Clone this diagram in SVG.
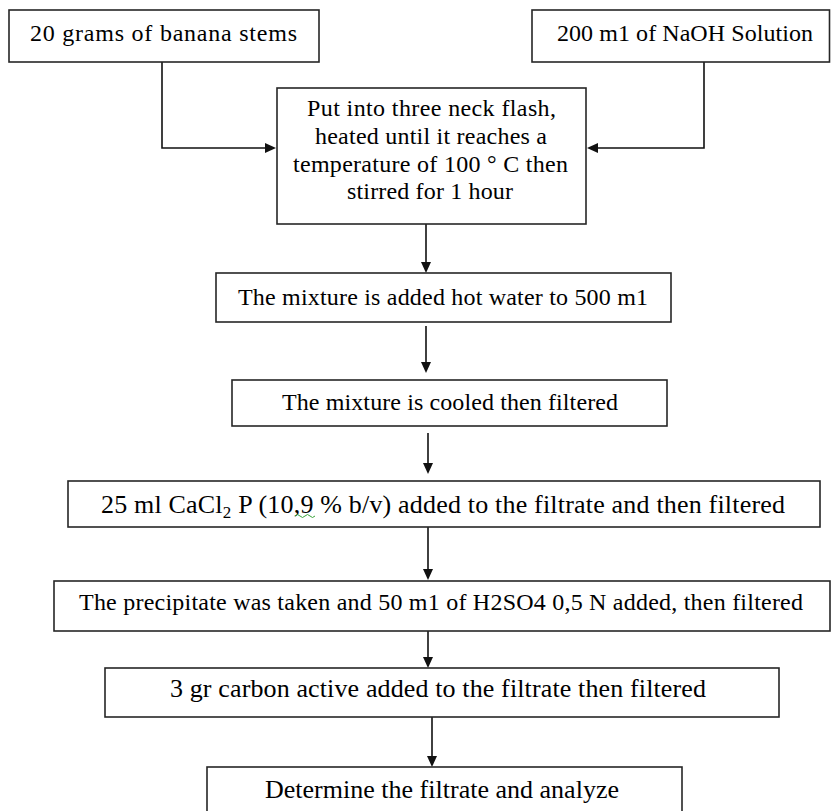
<svg xmlns="http://www.w3.org/2000/svg" width="831" height="811" viewBox="0 0 831 811">
<style>
  .box { fill: #ffffff; stroke: #262626; stroke-width: 1.6; }
  .t { font-family: "Liberation Serif", "Times New Roman", serif; font-size: 24px; fill: #000; }
  .tl { font-family: "Liberation Serif", "Times New Roman", serif; font-size: 26px; fill: #000; }
  .conn { fill: none; stroke: #111; stroke-width: 1.6; }
</style>
<defs>
  <marker id="arrow" markerUnits="userSpaceOnUse" markerWidth="12" markerHeight="11" refX="3" refY="5" orient="auto">
    <path d="M0,0 L11,5 L0,10 z" fill="#111"/>
  </marker>
</defs>
<rect width="831" height="811" fill="#ffffff"/>

<g id="connectors">
  <path class="conn" d="M162,62 V148 H268" marker-end="url(#arrow)"/>
  <path class="conn" d="M704,62 V148 H595" marker-end="url(#arrow)"/>
  <path class="conn" d="M426,224 V265" marker-end="url(#arrow)"/>
  <path class="conn" d="M426,326 V365" marker-end="url(#arrow)"/>
  <path class="conn" d="M428,433 V466" marker-end="url(#arrow)"/>
  <path class="conn" d="M428,527 V572" marker-end="url(#arrow)"/>
  <path class="conn" d="M428,631 V660" marker-end="url(#arrow)"/>
  <path class="conn" d="M432,717 V759" marker-end="url(#arrow)"/>
</g>

<g id="node-banana">
  <rect class="box" x="9" y="10" width="310" height="52"/>
  <text class="t" x="30" y="41" textLength="267" lengthAdjust="spacing">20 grams of banana stems</text>
</g>

<g id="node-naoh">
  <rect class="box" x="532" y="10" width="297.5" height="52"/>
  <text class="t" x="557" y="41" textLength="256" lengthAdjust="spacing">200 m1 of NaOH Solution</text>
</g>

<g id="node-flask">
  <rect class="box" x="277" y="88" width="309" height="136"/>
  <text class="t" x="307" y="116" textLength="249" lengthAdjust="spacing">Put into three neck flash,</text>
  <text class="t" x="315" y="143.5" textLength="232" lengthAdjust="spacing">heated until it reaches a</text>
  <text class="t" x="293" y="171.5" textLength="275" lengthAdjust="spacing">temperature of 100 ° C then</text>
  <text class="t" x="347" y="199" textLength="166" lengthAdjust="spacing">stirred for 1 hour</text>
</g>

<g id="node-hotwater">
  <rect class="box" x="216" y="273" width="455" height="49"/>
  <text class="t" x="238" y="305" textLength="410" lengthAdjust="spacing">The mixture is added hot water to 500 m1</text>
</g>

<g id="node-cooled">
  <rect class="box" x="232" y="380" width="435" height="46"/>
  <text class="t" x="282" y="410" textLength="336" lengthAdjust="spacing">The mixture is cooled then filtered</text>
</g>

<g id="node-cacl2">
  <rect class="box" x="68" y="481" width="752" height="46"/>
  <text class="tl" x="101" y="513" textLength="684" lengthAdjust="spacing">25 ml CaCl<tspan font-size="17" dy="5">2</tspan><tspan dy="-5"> P (10,9 % b/v) added to the filtrate and then filtered</tspan></text>
  <path d="M295,516 q2.5,-3 5,0 t5,0 t5,0 t5,0" fill="none" stroke="#3aa33a" stroke-width="1"/>
</g>

<g id="node-precipitate">
  <rect class="box" x="54" y="581" width="776" height="50"/>
  <text class="t" x="79" y="610" textLength="724" lengthAdjust="spacing">The precipitate was taken and 50 m1 of H2SO4 0,5 N added, then filtered</text>
</g>

<g id="node-carbon">
  <rect class="box" x="105" y="668" width="674" height="49"/>
  <text class="tl" x="170" y="697" textLength="536" lengthAdjust="spacing">3 gr carbon active added to the filtrate then filtered</text>
</g>

<g id="node-determine">
  <rect class="box" x="207" y="767" width="475" height="52"/>
  <text class="tl" x="265" y="798" textLength="354" lengthAdjust="spacing">Determine the filtrate and analyze</text>
</g>
</svg>
